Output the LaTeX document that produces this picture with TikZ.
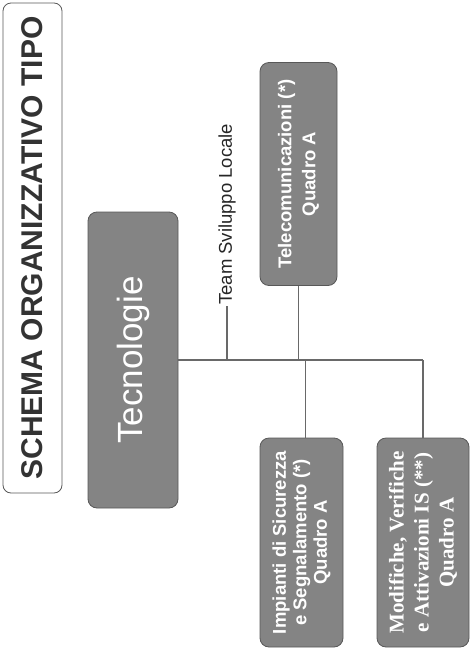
\documentclass[tikz,border=0pt]{standalone}
\usepackage{fontspec}
\setmainfont{Liberation Sans}
\newfontfamily\timesfont{Liberation Serif}
\definecolor{boxgray}{RGB}{132,132,132}
\definecolor{edgegray}{RGB}{88,88,88}
\definecolor{wiregray}{RGB}{105,105,105}
\tikzset{
  unit/.style={rotate=90,draw=edgegray,line width=0.8pt,fill=boxgray,rounded corners=9pt,
    text=white,align=center,inner sep=2pt},
  wire/.style={draw=wiregray,line width=1.1pt},
}
\begin{document}
\begin{tikzpicture}[x=1pt,y=-1pt]
\useasboundingbox (0,0) rectangle (471,651);
% title and head box
\node[rotate=90,draw=edgegray,line width=0.8pt,rounded corners=8pt,minimum width=490pt,
  minimum height=59pt,text=black!80,font=\fontsize{30}{31}\selectfont\bfseries]
  (title) at (32.5,248) {SCHEMA ORGANIZZATIVO TIPO};
\node[unit,minimum width=296pt,minimum height=90pt,font=\fontsize{35}{40}\selectfont]
  (tec) at (133,360) {Tecnologie};
% the three units
\node[unit,minimum width=223pt,minimum height=77pt,font=\fontsize{18.5}{24}\selectfont\bfseries]
  (tel) at (298.5,174) {Telecomunicazioni (*)\\Quadro A};
\node[unit,minimum width=209pt,minimum height=83pt,font=\fontsize{18.5}{20.5}\selectfont\bfseries]
  (imp) at (301.5,542.5) {Impianti di Sicurezza\\e Segnalamento (*)\\Quadro A};
\node[unit,minimum width=209pt,minimum height=92pt,font=\timesfont\fontsize{21}{25}\selectfont\bfseries]
  (mod) at (423,542.5) {Modifiche, Verifiche\\e Attivazioni IS (**)\\Quadro A};
\node[rotate=90,anchor=west,inner sep=1pt,font=\fontsize{18.5}{22}\selectfont,text=black!85]
  (team) at (227,306) {Team Sviluppo Locale};
% connectors
\draw[wire] (tec.south) -- (tec.south -| mod.east);
\draw[wire] (team.west) -- (team.west |- tec.south);
\draw[wire] (tel.west) -- (tel.west |- tec.south);
\draw[wire] ([xshift=4pt]imp.east) -- ([xshift=4pt]imp.east |- tec.south);
\draw[wire] (mod.east) -- (mod.east |- tec.south);
\end{tikzpicture}
\end{document}
